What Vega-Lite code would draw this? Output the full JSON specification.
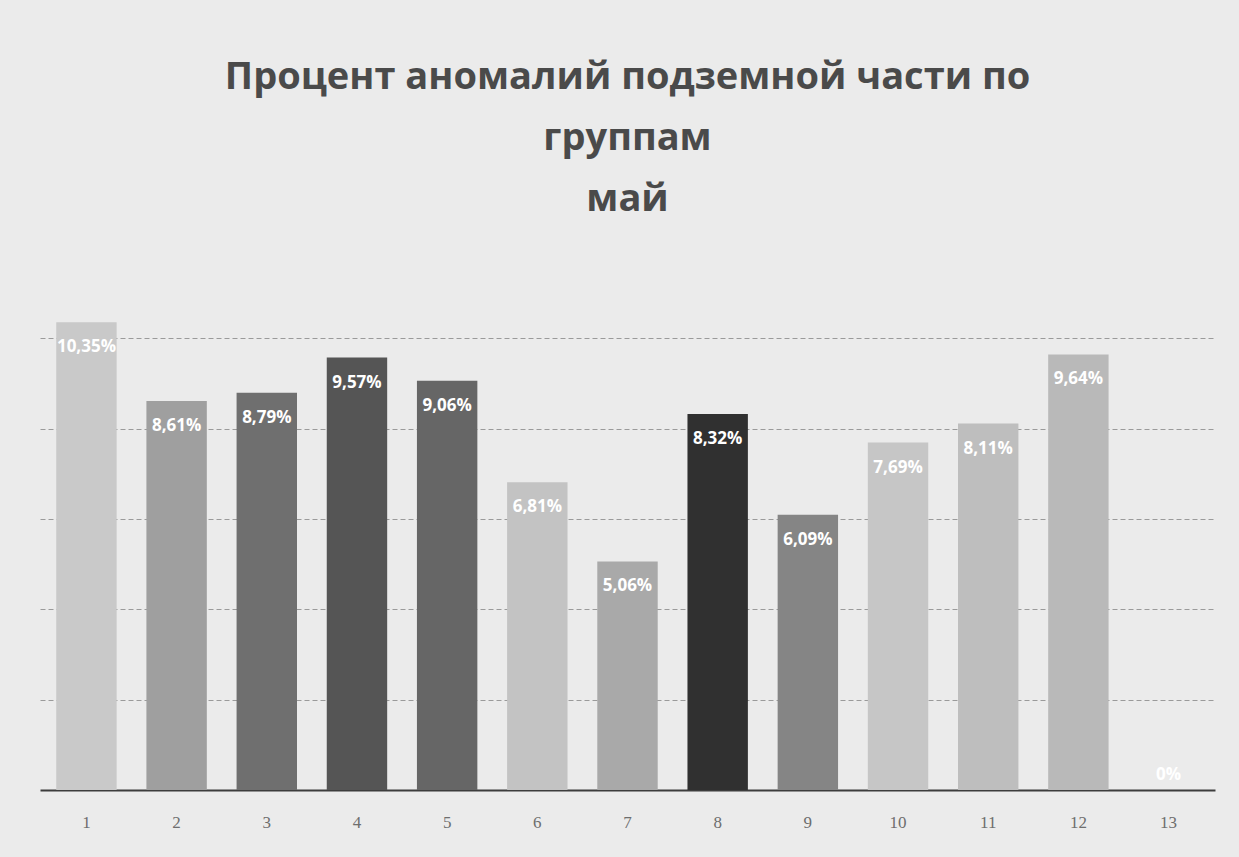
{
  "$schema": "https://vega.github.io/schema/vega-lite/v6.json",
  "autosize": "none",
  "width": 1175,
  "height": 497,
  "padding": {"left": 40, "top": 293, "right": 24, "bottom": 67},
  "background": "#ebebeb",
  "title": {
    "text": ["Процент аномалий подземной части по", "группам", "май"],
    "anchor": "middle",
    "frame": "group",
    "font": "Open Sans",
    "fontSize": 38,
    "fontWeight": "bold",
    "color": "#4a4a4a",
    "lineHeight": 61,
    "offset": 74
  },
  "config": {
    "view": {"stroke": null},
    "locale": {
      "number": {"decimal": ",", "thousands": " ", "grouping": [3], "currency": ["", " ₽"]}
    }
  },
  "data": {
    "values": [
      {"group": "1", "share": 0.1035, "shade": "#c9c9c9"},
      {"group": "2", "share": 0.0861, "shade": "#9f9f9f"},
      {"group": "3", "share": 0.0879, "shade": "#6f6f6f"},
      {"group": "4", "share": 0.0957, "shade": "#555555"},
      {"group": "5", "share": 0.0906, "shade": "#666666"},
      {"group": "6", "share": 0.0681, "shade": "#c3c3c3"},
      {"group": "7", "share": 0.0506, "shade": "#a9a9a9"},
      {"group": "8", "share": 0.0832, "shade": "#303030"},
      {"group": "9", "share": 0.0609, "shade": "#858585"},
      {"group": "10", "share": 0.0769, "shade": "#c6c6c6"},
      {"group": "11", "share": 0.0811, "shade": "#bebebe"},
      {"group": "12", "share": 0.0964, "shade": "#b9b9b9"},
      {"group": "13", "share": 0, "shade": "#b9b9b9"}
    ]
  },
  "encoding": {
    "x": {
      "field": "group",
      "type": "ordinal",
      "sort": null,
      "scale": {"paddingInner": 0.33, "paddingOuter": 0.18},
      "axis": {
        "title": null,
        "labelAngle": 0,
        "labelFont": "Liberation Serif",
        "labelFontSize": 17,
        "labelColor": "#6e6e6e",
        "labelPadding": 24,
        "ticks": false,
        "domainColor": "#3c3c3c",
        "domainWidth": 2,
        "grid": false
      }
    },
    "y": {
      "field": "share",
      "type": "quantitative",
      "scale": {"domain": [0, 0.11], "nice": false},
      "axis": {
        "title": null,
        "labels": false,
        "ticks": false,
        "domain": false,
        "values": [0.02, 0.04, 0.06, 0.08, 0.1],
        "gridColor": "#9a9a9a",
        "gridDash": [5, 3],
        "gridWidth": 1
      }
    }
  },
  "layer": [
    {
      "mark": {"type": "bar"},
      "encoding": {
        "color": {"field": "shade", "type": "nominal", "scale": null}
      }
    },
    {
      "transform": [{"filter": "datum.share > 0"}],
      "mark": {
        "type": "text",
        "baseline": "top",
        "dy": 17,
        "font": "Open Sans",
        "fontSize": 17,
        "fontWeight": "bold",
        "color": "#ffffff"
      },
      "encoding": {
        "text": {"field": "share", "type": "quantitative", "format": ".2~%"}
      }
    },
    {
      "transform": [{"filter": "datum.share == 0"}],
      "mark": {
        "type": "text",
        "baseline": "bottom",
        "dy": -6,
        "font": "Open Sans",
        "fontSize": 17,
        "fontWeight": "bold",
        "color": "#ffffff"
      },
      "encoding": {
        "text": {"field": "share", "type": "quantitative", "format": ".2~%"}
      }
    }
  ]
}
